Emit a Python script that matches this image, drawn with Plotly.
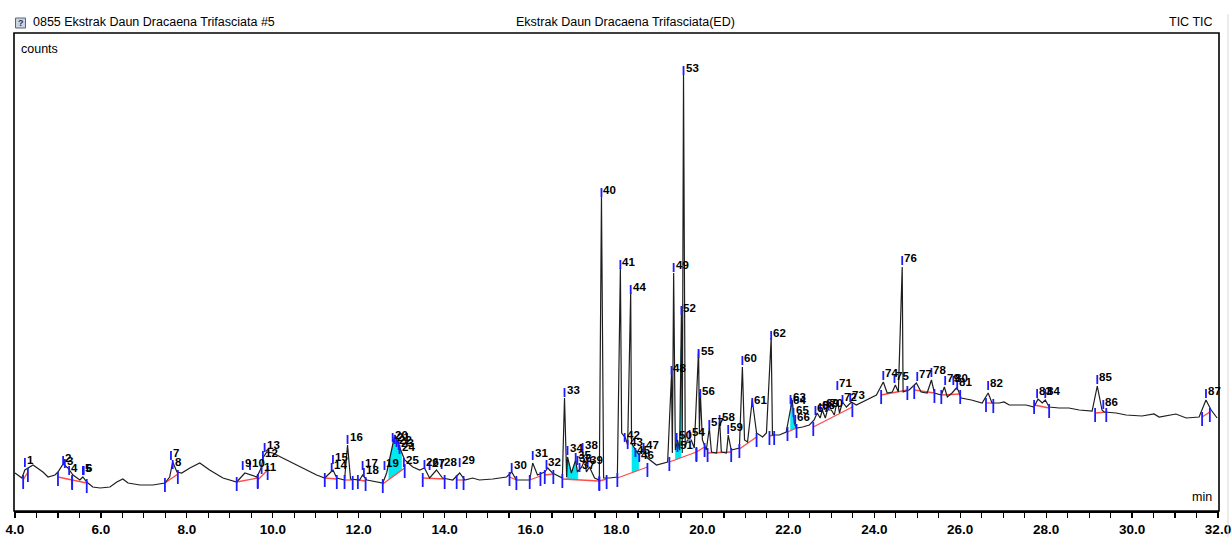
import numpy as np
import plotly.graph_objects as go

# ---------------- data ----------------
# TIC trace: retention time (min) and counts (arbitrary units)
rt = [4.00, 4.16, 4.23, 4.42, 4.65, 4.77, 4.93, 5.00, 5.12, 5.23, 5.35, 5.51, 5.58, 5.67, 5.81, 5.98,
      6.21, 6.37, 6.51, 6.63, 6.91, 7.21, 7.49, 7.60, 7.67, 7.77, 7.88, 8.07, 8.30, 8.53, 8.84,
      9.16, 9.35, 9.47, 9.63, 9.74, 9.77, 9.86, 10.00, 10.23, 10.63, 11.02, 11.21, 11.33, 11.40,
      11.49, 11.67, 11.74, 11.81, 12.02, 12.09, 12.19, 12.56, 12.65, 12.84, 12.95, 13.07, 13.26,
      13.42, 13.53, 13.65, 13.81, 13.95, 14.19, 14.35, 14.47, 14.65, 14.81, 15.12, 15.44, 15.56,
      15.67, 15.98, 16.05, 16.16, 16.33, 16.40, 16.51, 16.74, 16.79, 16.84, 16.86, 16.95, 17.05,
      17.09, 17.19, 17.26, 17.30, 17.37, 17.49, 17.60, 17.65, 17.70, 17.84, 18.02, 18.09, 18.12,
      18.21, 18.26, 18.33, 18.35, 18.47, 18.53, 18.60, 18.72, 18.93, 19.19, 19.28, 19.30, 19.33,
      19.37, 19.42, 19.47, 19.51, 19.53, 19.56, 19.60, 19.65, 19.74, 19.81, 19.91, 19.93, 19.95,
      20.00, 20.09, 20.16, 20.21, 20.33, 20.40, 20.44, 20.56, 20.60, 20.67, 20.86, 20.93, 20.98,
      21.05, 21.16, 21.26, 21.40, 21.49, 21.60, 21.63, 21.79, 21.95, 22.09, 22.14, 22.19, 22.33,
      22.49, 22.60, 22.67, 22.74, 22.79, 22.86, 22.91, 23.00, 23.07, 23.14, 23.19, 23.26, 23.35,
      23.47, 23.58, 23.81, 24.05, 24.21, 24.30, 24.42, 24.49, 24.56, 24.65, 24.67, 24.81, 24.98,
      25.09, 25.23, 25.33, 25.40, 25.56, 25.63, 25.70, 25.81, 25.91, 25.95, 26.02, 26.26, 26.51,
      26.65, 26.74, 26.91, 27.02, 27.14, 27.37, 27.53, 27.72, 27.81, 27.91, 27.98, 28.07, 28.30,
      28.53, 28.77, 29.07, 29.19, 29.30, 29.35, 29.63, 29.86, 30.23, 30.51, 30.63, 31.02, 31.26,
      31.56, 31.72, 31.84, 31.98]
counts = [38, 33, 41, 46, 39, 34, 36, 39, 47, 43, 36, 31, 34, 29, 24, 23,
          24, 29, 32, 28, 26, 26, 28, 34, 49, 39, 38, 43, 48, 41, 33,
          29, 38, 36, 34, 44, 53, 59, 58, 53, 44, 36, 33, 38, 41,
          33, 31, 66, 32, 31, 36, 31, 28, 38, 76, 64, 51, 44,
          41, 43, 33, 41, 33, 31, 38, 31, 33, 31, 32, 34, 39,
          31, 31, 48, 36, 39, 43, 38, 33, 113, 34, 54, 38, 51,
          39, 44, 51, 39, 44, 33, 31, 314, 33, 33, 34, 243, 78,
          73, 66, 219, 68, 59, 56, 62, 53, 46, 49, 136, 58, 238,
          61, 71, 61, 196, 58, 436, 64, 71, 71, 63, 161, 78, 119,
          71, 61, 83, 59, 58, 91, 59, 58, 76, 61, 63, 144, 71,
          69, 111, 78, 74, 78, 173, 76, 76, 79, 111, 88, 83, 84,
          86, 91, 98, 93, 101, 93, 101, 101, 96, 111, 98, 109, 104,
          109, 106, 111, 116, 129, 118, 119, 126, 119, 244, 119, 121, 128,
          119, 118, 131, 118, 116, 124, 114, 118, 123, 121, 113, 111, 108,
          118, 108, 108, 109, 106, 106, 106, 104, 112, 108, 111, 104, 103,
          103, 101, 100, 125, 101, 99, 98, 96, 95, 97, 94, 97, 93,
          94, 111, 101, 93]

# Peak numbers, retention time of the peak marker and height of the label
peak_ids = [str(i) for i in range(1, 88)]
peak_rt = [4.23, 5.12, 5.16, 5.26, 5.58, 5.60, 7.63, 7.67, 9.30, 9.47,
           9.74, 9.77, 9.81, 11.37, 11.40, 11.74, 12.09, 12.12, 12.60, 12.79,
           12.84, 12.88, 12.93, 12.95, 13.05, 13.53, 13.65, 13.93, 14.35, 15.56,
           16.05, 16.37, 16.79, 16.86, 17.05, 17.09, 17.14, 17.21, 17.33, 17.65,
           18.09, 18.19, 18.26, 18.33, 18.44, 18.53, 18.63, 19.28, 19.33, 19.40,
           19.42, 19.51, 19.56, 19.70, 19.91, 19.95, 20.16, 20.40, 20.60, 20.93,
           21.16, 21.60, 22.05, 22.07, 22.12, 22.16, 22.63, 22.74, 22.84, 22.93,
           23.14, 23.26, 23.44, 24.21, 24.47, 24.65, 25.00, 25.33, 25.65, 25.84,
           25.93, 26.65, 27.79, 27.98, 29.19, 29.33, 31.72]
peak_h = [51, 53, 50, 43, 43, 43, 58, 49, 48, 48,
          44, 58, 66, 46, 54, 74, 48, 41, 48, 76,
          74, 71, 68, 64, 51, 49, 48, 49, 51, 46,
          58, 49, 121, 63, 56, 53, 46, 66, 51, 321,
          249, 76, 69, 224, 61, 56, 66, 143, 246, 76,
          66, 203, 443, 79, 160, 120, 89, 94, 84, 153,
          111, 178, 114, 111, 101, 94, 103, 106, 108, 108,
          128, 114, 116, 138, 135, 253, 137, 141, 133, 133,
          129, 128, 120, 120, 134, 109, 120]

# Integration baselines (start time, start height, end time, end height)
seg_t0 = [4.19, 5.00, 5.33, 7.49, 9.16, 9.65, 11.21, 11.67, 11.98, 12.56, 13.49, 14.28, 15.51, 15.98,
          16.33, 16.74, 17.60, 18.02, 19.23, 19.86, 20.12, 20.86, 21.56, 21.98, 22.58, 24.16, 24.93,
          25.56, 26.60, 27.72, 29.14, 31.63]
seg_h0 = [31, 34, 31, 28, 29, 31, 33, 31, 31, 27, 33, 31, 34, 31,
          36, 32, 30, 33, 49, 59, 58, 62, 75, 79, 84, 116, 121,
          116, 108, 106, 98, 94]
seg_t1 = [4.30, 5.33, 5.67, 7.79, 9.65, 9.88, 11.49, 11.86, 12.16, 13.07, 14.00, 14.44, 15.67, 16.23,
          16.53, 17.60, 17.77, 18.72, 19.86, 20.05, 20.67, 21.26, 21.67, 22.19, 23.49, 24.77, 25.40,
          26.00, 26.77, 28.07, 29.40, 31.81]
seg_h1 = [39, 31, 28, 37, 33, 41, 32, 31, 30, 43, 32, 31, 31, 35,
          37, 30, 32, 44, 59, 64, 59, 74, 76, 83, 104, 121, 118,
          117, 108, 103, 99, 99]

# Shaded (drop-line) areas
cyan_from = [12.70, 16.84, 18.36, 19.37, 22.05]
cyan_to = [13.00, 17.10, 18.52, 19.50, 22.17]

tick_vals = [4, 6, 8, 10, 12, 14, 16, 18, 20, 22, 24, 26, 28, 30, 32]
tick_text = ["4.0", "6.0", "8.0", "10.0", "12.0", "14.0", "16.0", "18.0", "20.0",
             "22.0", "24.0", "26.0", "28.0", "30.0", "32.0"]

# ---------------- figure ----------------
W, H = 1231, 537
L, R, T, B = 14, 12, 33, 26
PW = W - L - R
PH = H - T - B


def px(xp):
    return (xp - L) / PW


def py(yp):
    return (H - B - yp) / PH


BLUE = "#1c1cff"
RED = "#ff4a4a"
CYAN = "#00e8f0"
FONT = "Liberation Sans, Arial, sans-serif"

fig = go.Figure()

rt_a = np.array(rt)
c_a = np.array(counts)

# cyan areas between trace and baseline
for a, b in zip(cyan_from, cyan_to):
    k = next(i for i in range(len(seg_t0)) if seg_t0[i] <= a and seg_t1[i] >= b)
    bx = [seg_t0[k], seg_t1[k]]
    by = [seg_h0[k], seg_h1[k]]
    m = (rt_a > a) & (rt_a < b)
    xs = [a] + list(rt_a[m]) + [b, b, a, a]
    ys = ([float(np.interp(a, rt_a, c_a))] + list(c_a[m]) +
          [float(np.interp(b, rt_a, c_a)), float(np.interp(b, bx, by)),
           float(np.interp(a, bx, by)), float(np.interp(a, rt_a, c_a))])
    fig.add_trace(go.Scatter(x=xs, y=ys, mode="lines", fill="toself", fillcolor=CYAN,
                             line=dict(color=CYAN, width=0.5), hoverinfo="skip"))

# red integration baselines
rx, ry = [], []
for t0, h0, t1, h1 in zip(seg_t0, seg_h0, seg_t1, seg_h1):
    rx += [t0, t1, None]
    ry += [h0, h1, None]
fig.add_trace(go.Scatter(x=rx, y=ry, mode="lines", line=dict(color=RED, width=1.3),
                         hoverinfo="skip"))

# the chromatogram
fig.add_trace(go.Scatter(x=rt, y=counts, mode="lines",
                         line=dict(color="#1e1e1e", width=1.2), hoverinfo="skip"))

# blue start/end markers
bx_, by_ = [], []
for t0, h0, t1, h1 in zip(seg_t0, seg_h0, seg_t1, seg_h1):
    bx_ += [t0, t0, None, t1, t1, None]
    by_ += [h0 + 5, h0 - 9, None, h1 + 4, h1 - 10, None]
fig.add_trace(go.Scatter(x=bx_, y=by_, mode="lines", line=dict(color=BLUE, width=1.8),
                         hoverinfo="skip"))

# blue apex markers at labels
lx, ly = [], []
for t, h in zip(peak_rt, peak_h):
    lx += [t, t, None]
    ly += [h - 7, h + 2, None]
fig.add_trace(go.Scatter(x=lx, y=ly, mode="lines", line=dict(color=BLUE, width=1.8),
                         hoverinfo="skip"))

annotations = []
for pid, t, h in zip(peak_ids, peak_rt, peak_h):
    annotations.append(dict(x=t, y=h, xref="x", yref="y", text=pid, showarrow=False,
                            xanchor="left", yanchor="middle", xshift=0,
                            font=dict(family=FONT, size=11.5, color="black", weight="bold")))

hdr = dict(family=FONT, size=12.5, color="black")
annotations += [
    dict(x=px(31), y=py(22), xref="paper", yref="paper", showarrow=False, xanchor="left",
         yanchor="middle", text="0855 Ekstrak Daun Dracaena Trifasciata #5", font=hdr),
    dict(x=px(625), y=py(22), xref="paper", yref="paper", showarrow=False, xanchor="center",
         yanchor="middle", text="Ekstrak Daun Dracaena Trifasciata(ED)", font=hdr),
    dict(x=px(1215), y=py(22), xref="paper", yref="paper", showarrow=False, xanchor="right",
         yanchor="middle", text="TIC TIC", font=hdr),
    dict(x=px(19), y=py(49), xref="paper", yref="paper", showarrow=False, xanchor="left",
         yanchor="middle", text="counts", font=hdr),
    dict(x=px(1214), y=py(497), xref="paper", yref="paper", showarrow=False, xanchor="right",
         yanchor="middle", text="min", font=hdr),
    dict(x=px(20.5), y=py(23), xref="paper", yref="paper", showarrow=False, xanchor="center",
         yanchor="middle", text="?", font=dict(family=FONT, size=9, color="#303848", weight="bold")),
]

shapes = [
    dict(type="rect", xref="paper", yref="paper", x0=0, x1=1, y0=0, y1=1,
         line=dict(color="black", width=1.6), layer="above"),
    dict(type="rect", xref="paper", yref="paper", x0=px(15.5), x1=px(25.5), y0=py(28), y1=py(18),
         line=dict(color="#5a6678", width=1), fillcolor="#c9d3e3", layer="below"),
    dict(type="line", xref="paper", yref="paper", x0=px(1228), x1=px(1228), y0=py(14), y1=py(537),
         line=dict(color="#d8d8d8", width=1)),
]

fig.update_layout(
    width=W, height=H,
    margin=dict(l=L, r=R, t=T, b=B, pad=0, autoexpand=False),
    paper_bgcolor="white", plot_bgcolor="white",
    showlegend=False,
    annotations=annotations,
    shapes=shapes,
    xaxis=dict(range=[4 - 1 / 43, 32 + 1 / 43], showgrid=False, zeroline=False,
               automargin=False, ticklabeloverflow="allow",
               showline=True, linecolor="black", linewidth=2,
               ticks="outside", ticklen=5, tickwidth=1.2, tickcolor="black",
               tickmode="array", tickvals=tick_vals, ticktext=tick_text,
               tickfont=dict(family="Liberation Sans Narrow, Liberation Sans, Arial", size=13.5,
                             color="black", weight="bold"),
               minor=dict(dtick=0.5, tick0=4, ticks="outside", ticklen=5, tickwidth=1.2,
                          tickcolor="black", showgrid=False)),
    yaxis=dict(range=[0, PH], visible=False, showgrid=False, zeroline=False, automargin=False),
)

fig.write_html("out.html", config={"displayModeBar": False, "staticPlot": True},
               post_script="document.body.style.margin='0px';")
